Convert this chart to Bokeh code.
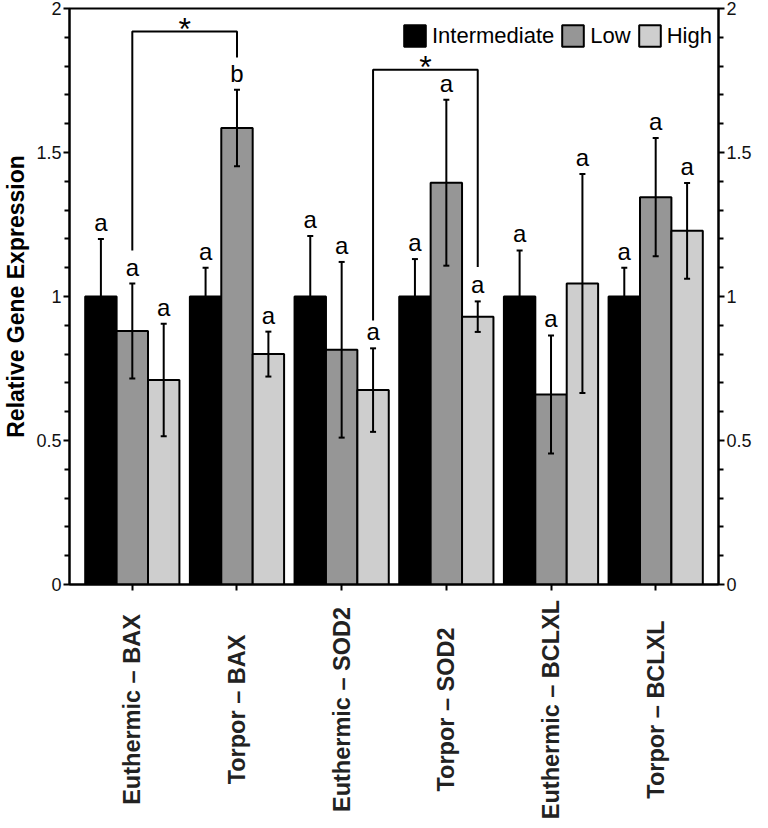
import math
from bokeh.plotting import figure
from bokeh.layouts import column
from bokeh.models import (Range1d, LinearAxis, FixedTicker, ColumnDataSource, Whisker,
                          TeeHead, LabelSet, Legend, LegendItem)
from bokeh.core.properties import value
from bokeh.embed import file_html
from bokeh.resources import INLINE

# ---------------- data ----------------
categories = ["Euthermic – BAX", "Torpor – BAX", "Euthermic – SOD2",
              "Torpor – SOD2", "Euthermic – BCLXL", "Torpor – BCLXL"]
series = ["Intermediate", "Low", "High"]

mean_intermediate = [1.0, 1.0, 1.0, 1.0, 1.0, 1.0]
mean_low = [0.88, 1.585, 0.815, 1.395, 0.66, 1.345]
mean_high = [0.71, 0.80, 0.675, 0.93, 1.045, 1.228]

sem_intermediate = [0.20, 0.10, 0.21, 0.13, 0.16, 0.10]
sem_low = [0.165, 0.133, 0.305, 0.288, 0.205, 0.205]
sem_high = [0.195, 0.078, 0.145, 0.053, 0.38, 0.166]

letters_intermediate = ["a", "a", "a", "a", "a", "a"]
letters_low = ["a", "b", "a", "a", "a", "a"]
letters_high = ["a", "a", "a", "a", "a", "a"]

# significance brackets: (left category, left series, right category, right series)
bracket_pairs = [(0, "Low", 1, "Low"), (2, "High", 3, "High")]
bracket_top = [1.92, 1.787]
bracket_left_foot = [1.16, 0.917]
bracket_right_foot = [1.83, 1.102]
bracket_marks = ["*", "*"]

y_major = [0, 0.5, 1, 1.5, 2]
y_minor = [0.1, 0.2, 0.3, 0.4, 0.6, 0.7, 0.8, 0.9, 1.1, 1.2, 1.3, 1.4,
           1.6, 1.7, 1.8, 1.9]
y_labels = ["0", "0.5", "1", "1.5", "2"]

colors = {"Intermediate": "#000000", "Low": "#969696", "High": "#cecece"}
offsets = {"Intermediate": -0.3, "Low": 0.0, "High": 0.3}
means = {"Intermediate": mean_intermediate, "Low": mean_low, "High": mean_high}
sems = {"Intermediate": sem_intermediate, "Low": sem_low, "High": sem_high}
letters = {"Intermediate": letters_intermediate, "Low": letters_low, "High": letters_high}

FONT = "Liberation Sans"
W = 760
BL, BR = 62, 42
PH = 596

p = figure(width=W, height=PH, x_range=Range1d(-0.6, 5.6), y_range=Range1d(0, 2),
           output_backend="svg", toolbar_location=None,
           min_border_left=BL, min_border_right=BR, min_border_top=8, min_border_bottom=12)
p.xgrid.visible = False
p.ygrid.visible = False
p.outline_line_color = "black"
p.outline_line_width = 2
p.background_fill_color = "white"

items = []
for s in series:
    xs = [i + offsets[s] for i in range(len(categories))]
    m = means[s]
    e = sems[s]
    src = ColumnDataSource(dict(x=xs, top=m, upper=[a + b for a, b in zip(m, e)],
                                lower=[a - b for a, b in zip(m, e)], txt=letters[s]))
    r = p.vbar(x="x", top="top", width=0.3, bottom=0, source=src,
               fill_color=colors[s], line_color="black", line_width=2)
    items.append(LegendItem(label=s, renderers=[r]))
    w = Whisker(source=src, base="x", upper="upper", lower="lower",
                line_color="black", line_width=2, level="annotation",
                upper_head=TeeHead(size=6, line_width=2, line_color="black"),
                lower_head=TeeHead(size=6, line_width=2, line_color="black"))
    p.add_layout(w)
    lab = LabelSet(x="x", y="upper", text="txt", source=src, text_align="center",
                   text_baseline="alphabetic", y_offset=8, text_font=value(FONT),
                   text_font_size="24px", text_color="black")
    p.add_layout(lab)

# brackets
bx, by, sx, sy = [], [], [], []
for (c1, s1, c2, s2), top, lf, rf in zip(bracket_pairs, bracket_top, bracket_left_foot, bracket_right_foot):
    x1 = c1 + offsets[s1]
    x2 = c2 + offsets[s2]
    bx.append([x1, x1, x2, x2])
    by.append([lf, top, top, rf])
    sx.append((x1 + x2) / 2)
    sy.append(top)
p.multi_line(xs=bx, ys=by, line_color="black", line_width=2)
star_src = ColumnDataSource(dict(x=sx, y=sy, t=bracket_marks))
p.add_layout(LabelSet(x="x", y="y", text="t", source=star_src, text_align="center",
                      text_baseline="alphabetic", y_offset=-8, text_font=value(FONT),
                      text_font_size="32px", text_color="black"))

# axes
def style_y(ax):
    ax.ticker = FixedTicker(ticks=y_major, minor_ticks=y_minor)
    ax.major_label_overrides = {t: l for t, l in zip(y_major, y_labels)}
    ax.major_label_text_font = FONT
    ax.major_label_text_font_size = "18px"
    ax.major_label_text_color = "#111111"
    ax.major_tick_out = 6
    ax.major_tick_in = 0
    ax.minor_tick_out = 5
    ax.minor_tick_in = 0
    ax.axis_line_width = 2
    ax.major_tick_line_width = 2
    ax.minor_tick_line_width = 2
    ax.major_label_standoff = 2

yl = p.yaxis[0]
style_y(yl)
yl.axis_label = "Relative Gene Expression"
yl.axis_label_text_font = FONT
yl.axis_label_text_font_style = "bold"
yl.axis_label_text_font_size = "23px"
yl.axis_label_text_color = "black"
yl.axis_label_standoff = 4

yr = LinearAxis()
style_y(yr)
p.add_layout(yr, "right")

xa = p.xaxis[0]
xa.ticker = FixedTicker(ticks=list(range(len(categories))), minor_ticks=[])
xa.major_label_overrides = {i: "" for i in range(len(categories))}
xa.major_label_standoff = 0
xa.major_tick_out = 6
xa.major_tick_in = 0
xa.axis_line_width = 2
xa.major_tick_line_width = 2

legend = Legend(items=items, location=(332, 535), orientation="horizontal",
                glyph_width=27, glyph_height=27, label_text_font=FONT,
                label_text_font_size="22px", label_text_color="black",
                label_standoff=4, spacing=5,
                padding=0, margin=0, border_line_alpha=0, background_fill_alpha=0,
                label_height=27)
p.add_layout(legend)

# category labels: a strip below the chart sharing the x scale, labels vertical and centred
LH = 224
q = figure(width=W, height=LH, x_range=p.x_range, y_range=Range1d(0, LH),
           output_backend="svg", toolbar_location=None,
           min_border_left=BL, min_border_right=BR, min_border_top=0, min_border_bottom=0)
q.axis.visible = False
q.xgrid.visible = False
q.ygrid.visible = False
q.outline_line_color = None
q.text(x=list(range(len(categories))), y=[LH - 113] * len(categories), text=categories,
       angle=math.pi / 2, text_align="center", text_baseline="middle",
       text_font=value(FONT), text_font_style="bold", text_font_size="23.5px",
       text_color="#222222")

layout = column(p, q, spacing=0)
open("out.html", "w").write(file_html(layout, INLINE))
